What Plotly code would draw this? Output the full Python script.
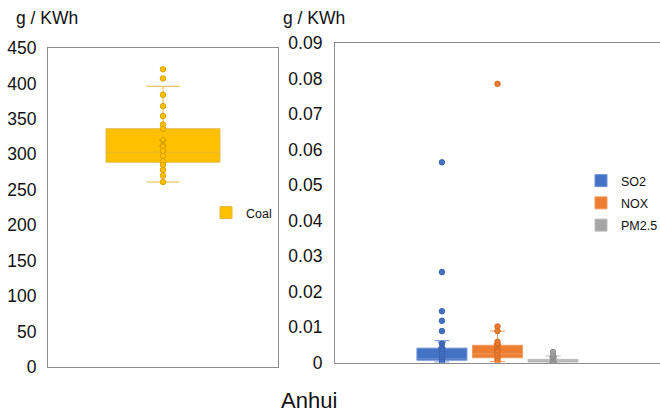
import plotly.graph_objects as go

# ---------------- data ----------------
region = "Anhui"
unit_label = "g / KWh"

coal_name = "Coal"
coal_points = [420, 407, 384, 368, 354, 342, 336, 320, 312, 305, 298, 290, 285, 278, 270, 261]
coal_q1 = 289
coal_median = 303
coal_q3 = 336
coal_low = 261
coal_high = 396
coal_mean = 316

pol_names = ["SO2", "NOX", "PM2.5"]
so2_points = [0.0564, 0.0255, 0.0145, 0.0118, 0.0089, 0.0053, 0.0041, 0.0033, 0.0025, 0.0018, 0.0010, 0.0003]
nox_points = [0.0785, 0.0102, 0.0089, 0.0059, 0.0050, 0.0040, 0.0030, 0.0020, 0.0012, 0.0005]
pm25_points = [0.0030, 0.0019, 0.0012, 0.0008, 0.0004]
pol_points = [so2_points, nox_points, pm25_points]
pol_q1 = [0.0007, 0.0014, 0.0002]
pol_median = [0.0011, 0.0025, 0.0006]
pol_q3 = [0.0041, 0.0049, 0.00095]
pol_low = [0.0002, 0.0003, 0.0001]
pol_high = [0.0062, 0.0089, 0.0019]
pol_mean = [0.0050, 0.0044, 0.0008]

coal_ticks = list(range(0, 451, 50))
pol_ticks = [0, 0.01, 0.02, 0.03, 0.04, 0.05, 0.06, 0.07, 0.08, 0.09]

# ---------------- styles ----------------
FONT = "Liberation Sans, Arial, Helvetica, sans-serif"
coal_fill = "#FFC000"
coal_line = "#E4B63E"
coal_pt_line = "#D9A200"
pol_fill = ["#4472C4", "#ED7D31", "#A5A5A5"]
pol_line = ["#6E90D2", "#F09A5E", "#BDBDBD"]
pol_pt_line = ["#3A62AE", "#D56A22", "#8E8E8E"]
frame = "#8C8C8C"

W, H = 660, 414


def fx(px):
    return px / W


def fy(py):
    return (H - py) / H


fig = go.Figure()

# ---- left panel: coal ----
fig.add_trace(go.Box(
    x=[0], q1=[coal_q1], median=[coal_median], q3=[coal_q3],
    lowerfence=[coal_low], upperfence=[coal_high],
    name=coal_name, width=0.99, whiskerwidth=0.29,
    fillcolor=coal_fill, line=dict(color=coal_line, width=1),
    boxpoints=False, xaxis="x", yaxis="y", legend="legend",
    hoverinfo="skip",
))
fig.add_trace(go.Scatter(
    x=[0] * len(coal_points), y=coal_points, mode="markers",
    marker=dict(size=5.5, color=coal_fill, line=dict(color=coal_pt_line, width=1)),
    showlegend=False, xaxis="x", yaxis="y", hoverinfo="skip",
))
fig.add_trace(go.Scatter(
    x=[0], y=[coal_mean], mode="markers",
    marker=dict(size=7, symbol="x-thin-open", color=coal_pt_line,
                line=dict(color=coal_pt_line, width=1.5)),
    showlegend=False, xaxis="x", yaxis="y", hoverinfo="skip",
))

# ---- right panel: pollutants ----
for i, name in enumerate(pol_names):
    pos = i - 1
    fig.add_trace(go.Box(
        x=[pos], q1=[pol_q1[i]], median=[pol_median[i]], q3=[pol_q3[i]],
        lowerfence=[pol_low[i]], upperfence=[pol_high[i]],
        name=name, width=0.9, whiskerwidth=0.3,
        fillcolor=pol_fill[i], line=dict(color=pol_line[i], width=1),
        boxpoints=False, xaxis="x2", yaxis="y2", legend="legend2",
        legendgroup=name, hoverinfo="skip",
    ))
    fig.add_trace(go.Scatter(
        x=[pos] * len(pol_points[i]), y=pol_points[i], mode="markers",
        marker=dict(size=5.5, color=pol_fill[i], line=dict(color=pol_pt_line[i], width=1)),
        showlegend=False, xaxis="x2", yaxis="y2", hoverinfo="skip",
    ))
    fig.add_trace(go.Scatter(
        x=[pos], y=[pol_mean[i]], mode="markers",
        marker=dict(size=7, symbol="x-thin-open", color=pol_pt_line[i],
                    line=dict(color=pol_pt_line[i], width=1.5)),
        showlegend=False, xaxis="x2", yaxis="y2", hoverinfo="skip",
    ))

tickfont = dict(family=FONT, size=17.5, color="#111111")
legfont = dict(family=FONT, size=12.5, color="#111111")

fig.update_layout(
    width=W, height=H,
    margin=dict(l=0, r=0, t=0, b=0, autoexpand=False),
    paper_bgcolor="white", plot_bgcolor="white",
    font=dict(family=FONT, color="#111111"),
    showlegend=True,
    xaxis=dict(domain=[fx(48), fx(278)], range=[-1, 1], showticklabels=False,
               showgrid=False, zeroline=False, showline=True, mirror=True,
               linecolor=frame, linewidth=1.2, ticks="", automargin=False),
    yaxis=dict(domain=[fy(367), fy(48)], range=[0, 450],
               tickvals=coal_ticks, showgrid=False, zeroline=False,
               showline=True, mirror=True, linecolor=frame, linewidth=1.2,
               ticks="", tickfont=tickfont, ticklabelstandoff=7, automargin=False),
    xaxis2=dict(domain=[fx(335), 1.0], range=[-2.925, 2.925], showticklabels=False,
                showgrid=False, zeroline=False, showline=True, mirror=True,
                linecolor=frame, linewidth=1.2, ticks="", anchor="y2", automargin=False),
    yaxis2=dict(domain=[fy(362.7), fy(43)], range=[0, 0.09],
                tickvals=pol_ticks, showgrid=False, zeroline=False,
                showline=True, mirror=False, linecolor=frame, linewidth=1.2,
                ticks="", tickfont=tickfont, anchor="x2", ticklabelstandoff=8,
                automargin=False),
    legend=dict(x=fx(206), y=fy(213), xanchor="left", yanchor="middle",
                font=legfont, bgcolor="rgba(0,0,0,0)", borderwidth=0),
    legend2=dict(x=fx(581), y=fy(203), xanchor="left", yanchor="middle",
                 font=legfont, bgcolor="rgba(0,0,0,0)", borderwidth=0,
                 traceorder="grouped", tracegroupgap=3),
    annotations=[
        dict(text=unit_label, x=fx(14), y=fy(18), xref="paper", yref="paper",
             xanchor="left", yanchor="middle", showarrow=False,
             font=dict(family=FONT, size=17.5, color="#111111")),
        dict(text=unit_label, x=fx(281), y=fy(18), xref="paper", yref="paper",
             xanchor="left", yanchor="middle", showarrow=False,
             font=dict(family=FONT, size=17.5, color="#111111")),
        dict(text=region, x=fx(309), y=fy(400), xref="paper", yref="paper",
             xanchor="center", yanchor="middle", showarrow=False,
             font=dict(family=FONT, size=22, color="#111111")),
    ],
)

fig.write_html(
    "out.html",
    config={"displayModeBar": False},
    post_script="document.body.style.margin='0px';document.body.style.overflow='hidden';",
)
